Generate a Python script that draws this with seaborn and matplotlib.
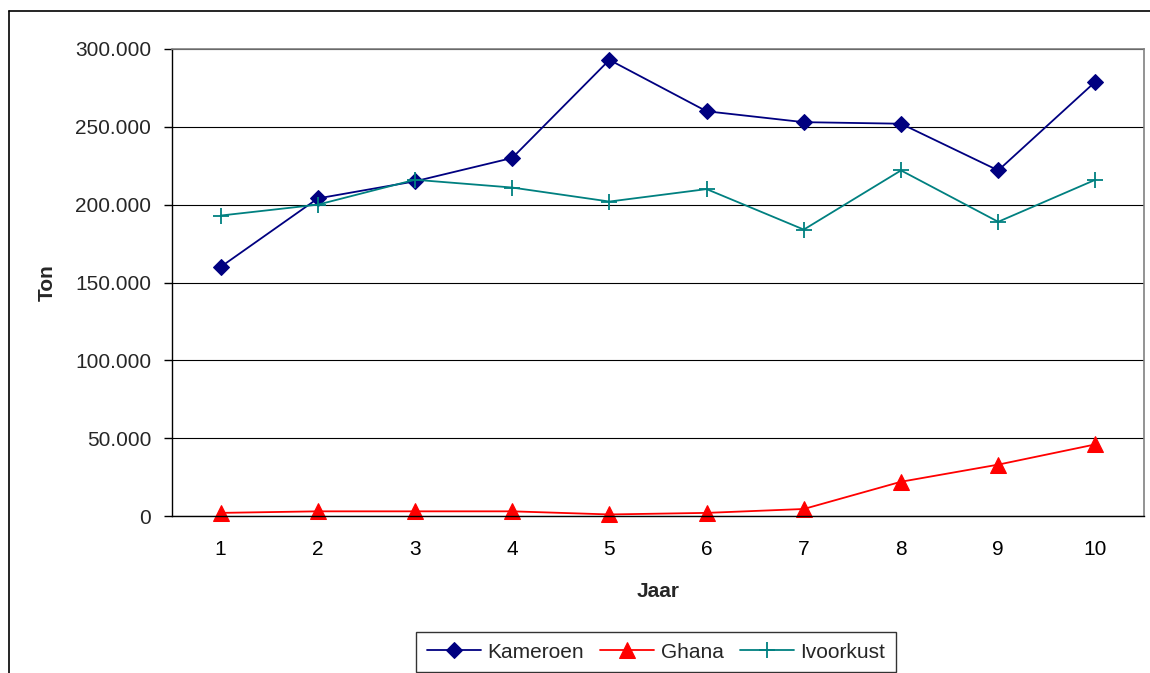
import numpy as np
import pandas as pd
import matplotlib.pyplot as plt
import seaborn as sns
from matplotlib.ticker import FuncFormatter, FixedLocator
from matplotlib.lines import Line2D

jaar = [1, 2, 3, 4, 5, 6, 7, 8, 9, 10]
kameroen = [160000, 204000, 215000, 230000, 293000, 260000, 253000, 252000, 222000, 279000]
ghana = [2000, 3000, 3000, 3000, 1000, 2000, 4500, 22000, 33000, 46000]
ivoorkust = [193000, 200000, 216000, 211000, 202000, 210000, 184000, 222000, 189000, 216000]

sns.set_style("white")
plt.rcParams['font.family'] = ['Liberation Sans', 'DejaVu Sans']

fig = plt.figure(figsize=(11.5, 6.73), dpi=100)
ax = fig.add_axes([172/1150, 1 - 516/673, (1144-172)/1150, (516-49)/673])

df = pd.DataFrame({'Jaar': jaar, 'Kameroen': kameroen, 'Ghana': ghana, 'Ivoorkust': ivoorkust})

sns.lineplot(data=df, x='Jaar', y='Kameroen', color='#000080', marker='D', markersize=8,
             markeredgecolor='#000080', linewidth=1.3, ax=ax, label='Kameroen', clip_on=False)
sns.lineplot(data=df, x='Jaar', y='Ghana', color='#FF0000', marker='^', markersize=12,
             markeredgecolor='#FF0000', linewidth=1.3, ax=ax, label='Ghana', clip_on=False)
sns.lineplot(data=df, x='Jaar', y='Ivoorkust', color='#008080', marker='+', markersize=11,
             markeredgecolor='#008080', markeredgewidth=1.3, linewidth=1.3, ax=ax,
             label='Ivoorkust', clip_on=False)

ax.set_xlim(0.5, 10.5)
ax.set_ylim(0, 300000)
ax.set_yticks(np.arange(0, 300001, 50000))
ax.yaxis.set_major_formatter(FuncFormatter(lambda v, p: f"{int(v):,}".replace(',', '.')))
ax.set_xticks(jaar)
ax.xaxis.set_minor_locator(FixedLocator(np.arange(0.5, 11, 1)))
ax.tick_params(axis='x', which='major', length=0, labelsize=15, pad=17, colors='black')
ax.tick_params(axis='x', which='minor', length=6, width=1, direction='out', color='black')
ax.tick_params(axis='y', which='major', length=6, width=1, direction='out', labelsize=15,
               pad=9, color='black', left=True)
ax.grid(axis='y', color='black', linewidth=0.8)
ax.set_axisbelow(True)

for s in ['left', 'bottom']:
    ax.spines[s].set_color('black')
    ax.spines[s].set_linewidth(1)
for s in ['top', 'right']:
    ax.spines[s].set_color('#808080')
    ax.spines[s].set_linewidth(1.2)

ax.set_xlabel('Jaar', fontsize=15, fontweight='bold', labelpad=17)
ax.set_ylabel('Ton', fontsize=15, fontweight='bold', labelpad=13)

leg = ax.legend(loc='center', bbox_to_anchor=(656/1150, 1 - 652/673),
                bbox_transform=fig.transFigure, ncol=3, fontsize=15, frameon=True,
                fancybox=False, edgecolor='black', handlelength=2.6, columnspacing=0.8,
                handletextpad=0.3, borderpad=0.5, borderaxespad=0)
leg.get_frame().set_linewidth(1)

# outer chart border (top and left only visible)
fig.add_artist(Line2D([9/1150, 1], [1 - 11/673, 1 - 11/673], color='black', linewidth=1.2,
                      transform=fig.transFigure))
fig.add_artist(Line2D([9/1150, 9/1150], [0, 1 - 11/673], color='black', linewidth=1.2,
                      transform=fig.transFigure))

plt.savefig('out.png', dpi=100)
